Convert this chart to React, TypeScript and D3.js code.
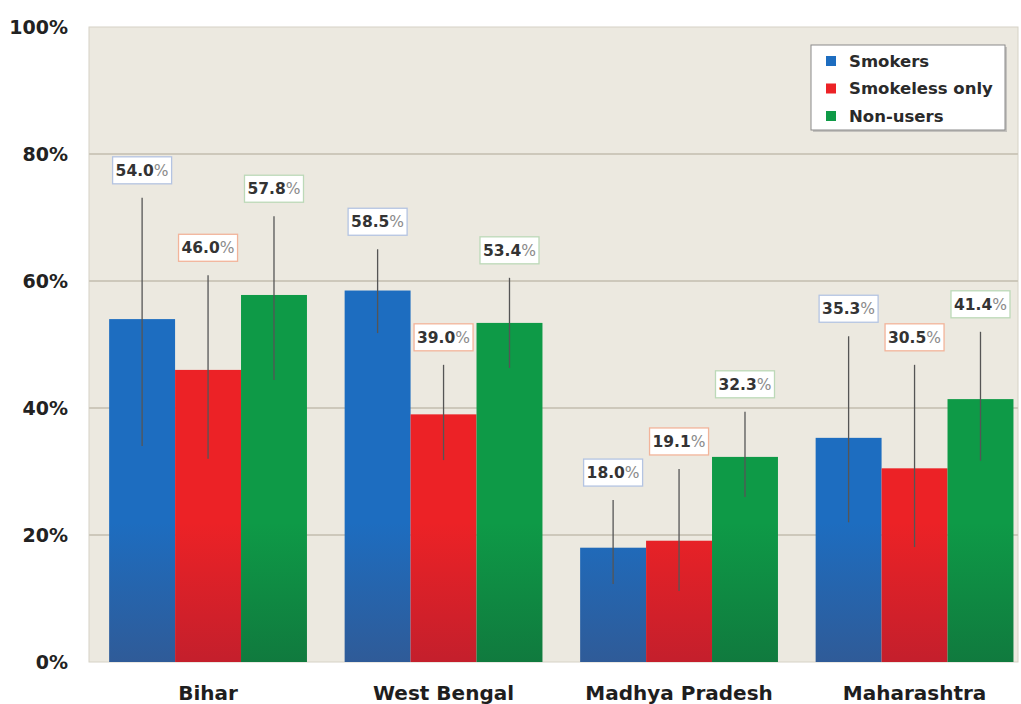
import React from "react";
import * as d3 from "d3";

const categories = ["Bihar", "West Bengal", "Madhya Pradesh", "Maharashtra"];
const seriesNames = ["Smokers", "Smokeless only", "Non-users"];
const smokers = [54.0, 58.5, 18.0, 35.3];
const smokeless = [46.0, 39.0, 19.1, 30.5];
const nonUsers = [57.8, 53.4, 32.3, 41.4];
const smokersHigh = [73.1, 65.0, 25.5, 51.3];
const smokersLow = [34.0, 51.8, 12.3, 22.0];
const smokelessHigh = [60.9, 46.8, 30.4, 46.8];
const smokelessLow = [32.0, 31.8, 11.2, 18.1];
const nonUsersHigh = [70.2, 60.5, 39.4, 52.0];
const nonUsersLow = [44.4, 46.3, 26.0, 31.7];
const yTicks = [0, 20, 40, 60, 80, 100];

const W = 1021;
const H = 704;
const plot = { left: 89, top: 27, right: 1018, bottom: 662 };

const colors = [
  { top: "#1d6dc0", bottom: "#2f5b98", border: "#b4c4e2", id: "gBlue" },
  { top: "#ec2226", bottom: "#c41f2c", border: "#f2b49a", id: "gRed" },
  { top: "#0e9a47", bottom: "#107a3e", border: "#bcd9b8", id: "gGreen" },
];

const values = [smokers, smokeless, nonUsers];
const highs = [smokersHigh, smokelessHigh, nonUsersHigh];
const lows = [smokersLow, smokelessLow, nonUsersLow];

const FONT = "'DejaVu Sans', Verdana, sans-serif";

export default function App() {
  const y = d3.scaleLinear().domain([0, 100]).range([plot.bottom, plot.top]);
  const x0 = d3
    .scaleBand<string>()
    .domain(categories)
    .range([90.3, 1032.3])
    .paddingInner(0.16)
    .paddingOuter(0.08);
  const x1 = d3
    .scaleBand<string>()
    .domain(seriesNames)
    .range([0, x0.bandwidth()])
    .padding(0);

  return (
    <svg
      width={W}
      height={H}
      style={{ position: "absolute", left: 0, top: 0, background: "#fff" }}
      fontFamily={FONT}
    >
      <defs>
        {colors.map((c) => (
          <linearGradient
            key={c.id}
            id={c.id}
            gradientUnits="userSpaceOnUse"
            x1={0}
            x2={0}
            y1={plot.top}
            y2={plot.bottom}
          >
            <stop offset="0" stopColor={c.top} />
            <stop offset="0.78" stopColor={c.top} />
            <stop offset="1" stopColor={c.bottom} />
          </linearGradient>
        ))}
        <clipPath id="plotClip">
          <rect
            x={plot.left}
            y={plot.top}
            width={plot.right - plot.left}
            height={plot.bottom - plot.top}
          />
        </clipPath>
      </defs>

      <rect
        x={plot.left}
        y={plot.top}
        width={plot.right - plot.left}
        height={plot.bottom - plot.top}
        fill="#ece9e0"
        stroke="#d6d2c6"
        strokeWidth={1}
      />

      {yTicks.map((t) => (
        <g key={t}>
          {t > 0 && t < 100 && (
            <line
              x1={plot.left}
              x2={plot.right}
              y1={y(t)}
              y2={y(t)}
              stroke="#cdc8bb"
              strokeWidth={2}
            />
          )}
          <text
            x={68}
            y={y(t)}
            dy="0.35em"
            textAnchor="end"
            fontSize={19}
            fontWeight="bold"
            fill="#222"
          >
            {t}%
          </text>
        </g>
      ))}

      <g clipPath="url(#plotClip)">
        {categories.map((cat, ci) => (
          <g key={cat} transform={`translate(${x0(cat)},0)`}>
            {seriesNames.map((s, si) => {
              const v = values[si][ci];
              return (
                <rect
                  key={s}
                  x={x1(s)}
                  y={y(v)}
                  width={x1.bandwidth()}
                  height={y(0) - y(v)}
                  fill={`url(#${colors[si].id})`}
                />
              );
            })}
          </g>
        ))}
        {categories.map((cat, ci) => (
          <g key={cat + "err"} transform={`translate(${x0(cat)},0)`}>
            {seriesNames.map((s, si) => {
              const cx = (x1(s) as number) + x1.bandwidth() / 2;
              return (
                <line
                  key={s}
                  x1={cx}
                  x2={cx}
                  y1={y(highs[si][ci])}
                  y2={y(lows[si][ci])}
                  stroke="#555"
                  strokeWidth={1.3}
                />
              );
            })}
          </g>
        ))}
      </g>

      {categories.map((cat, ci) => (
        <g key={cat + "lab"} transform={`translate(${x0(cat)},0)`}>
          {seriesNames.map((s, si) => {
            const cx = (x1(s) as number) + x1.bandwidth() / 2;
            const bottom = y(highs[si][ci]) - 14;
            const bw = 59;
            const bh = 27;
            return (
              <g key={s}>
                <rect
                  x={cx - bw / 2}
                  y={bottom - bh}
                  width={bw}
                  height={bh}
                  fill="#ffffff"
                  stroke={colors[si].border}
                  strokeWidth={1.3}
                />
                <text
                  x={cx}
                  y={bottom - bh / 2}
                  dy="0.36em"
                  textAnchor="middle"
                  fontSize={15.5}
                  fontWeight="bold"
                  fill="#333"
                >
                  {values[si][ci].toFixed(1)}
                  <tspan fill="#8a8a8a" fontWeight="normal">
                    %
                  </tspan>
                </text>
              </g>
            );
          })}
        </g>
      ))}

      {categories.map((cat) => (
        <text
          key={cat + "x"}
          x={(x0(cat) as number) + x0.bandwidth() / 2}
          y={700}
          textAnchor="middle"
          fontSize={20}
          fontWeight="bold"
          fill="#1e1e1e"
        >
          {cat}
        </text>
      ))}

      <g>
        <rect x={813} y={47} width={194} height={85} fill="#999" opacity={0.5} />
        <rect x={811} y={45} width={194} height={85} fill="#fff" stroke="#8a8a8a" strokeWidth={1} />
        {seriesNames.map((s, si) => (
          <g key={s} transform={`translate(0,${61 + si * 27.5})`}>
            <rect x={826} y={-5} width={10} height={10} fill={colors[si].top} />
            <text x={849} y={0} dy="0.36em" fontSize={16.5} fontWeight="bold" fill="#2a2a2a">
              {s}
            </text>
          </g>
        ))}
      </g>
    </svg>
  );
}
